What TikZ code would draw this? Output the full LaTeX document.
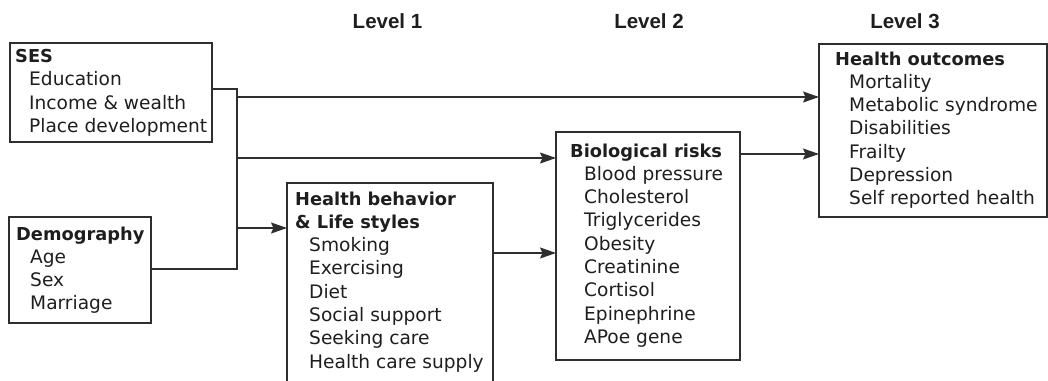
\documentclass[tikz,border=0pt]{standalone}
\usepackage{fontspec}
\setmainfont{DejaVu Sans}
\newfontfamily\lvlfont{Liberation Sans}
\usetikzlibrary{arrows.meta}
\definecolor{ink}{HTML}{1E1E1E}
\definecolor{linec}{HTML}{2E2E2E}
\newcommand\itm{\hspace*{14pt}}
\newcommand\hd[1]{{\fontsize{17.8}{23.3}\selectfont\bfseries #1}}
\begin{document}
\begin{tikzpicture}[x=1pt,y=-1pt,
  box/.style={draw=linec, line width=1.4pt, inner sep=0pt, outer sep=0pt, anchor=north west},
  txt/.style={anchor=base west, inner sep=0pt, align=left, text=ink, font=\fontsize{18.6}{23.3}\selectfont},
  arr/.style={draw=linec, line width=1.4pt, -{Stealth[length=16pt,width=11pt,inset=2.5pt]}},
  ln/.style={draw=linec, line width=1.4pt},
  lvl/.style={font=\lvlfont\bfseries\fontsize{20.5}{24}\selectfont, text=ink, anchor=base, inner sep=0pt}]
\useasboundingbox (0,0) rectangle (1048,380);
\clip (0,0) rectangle (1048,380);
% level labels
\node[lvl] (l1) at (387.5,28) {Level 1};
\node[lvl] (l2) at (649,28) {Level 2};
\node[lvl] (l3) at (905,28) {Level 3};
% boxes
\node[box, minimum width=202pt, minimum height=99pt] (ses) at (10,43) {};
\node[box, minimum width=142pt, minimum height=106pt] (demo) at (9,217) {};
\node[box, minimum width=206pt, minimum height=217pt] (hb) at (287,183) {};
\node[box, minimum width=184pt, minimum height=228pt] (bio) at (556,132) {};
\node[box, minimum width=228pt, minimum height=173pt] (out) at (819,44) {};
% texts (anchored at the baseline of their last line)
\node[txt] (sest) at (15,132.4) {\hd{SES}\\\itm Education\\\itm Income \& wealth\\\itm Place development};
\node[txt] (demot) at (16,309.9) {\hd{Demography}\\\itm Age\\\itm Sex\\\itm Marriage};
\node[txt] (hbt) at (295,368.1) {\hd{Health behavior}\\\hd{\& Life styles}\\\itm Smoking\\\itm Exercising\\\itm Diet\\\itm Social support\\\itm Seeking care\\\itm Health care supply};
\node[txt] (biot) at (570,343.4) {\hd{Biological risks}\\\itm Blood pressure\\\itm Cholesterol\\\itm Triglycerides\\\itm Obesity\\\itm Creatinine\\\itm Cortisol\\\itm Epinephrine\\\itm APoe gene};
\node[txt] (outt) at (835,204.8) {\hd{Health outcomes}\\\itm Mortality\\\itm Metabolic syndrome\\\itm Disabilities\\\itm Frailty\\\itm Depression\\\itm Self reported health};
% connectors
\coordinate (bus) at (237,0);
\coordinate (sesout) at ([yshift=-46pt]ses.north east);
\coordinate (demout) at ([yshift=-52pt]demo.north east);
\draw[ln] (sesout) -- (sesout -| bus) -- (demout -| bus) -- (demout);
\coordinate (o1) at ([yshift=-53pt]out.north west);
\coordinate (b1) at ([yshift=-26pt]bio.north west);
\coordinate (h1) at ([yshift=-45pt]hb.north west);
\coordinate (b2) at ([yshift=-121pt]bio.north west);
\coordinate (o2) at ([yshift=-110pt]out.north west);
\draw[arr] (o1 -| bus) -- (o1);
\draw[arr] (b1 -| bus) -- (b1);
\draw[arr] (h1 -| bus) -- (h1);
\draw[arr] (b2 -| hb.east) -- (b2);
\draw[arr] (o2 -| bio.east) -- (o2);
\end{tikzpicture}
\end{document}
